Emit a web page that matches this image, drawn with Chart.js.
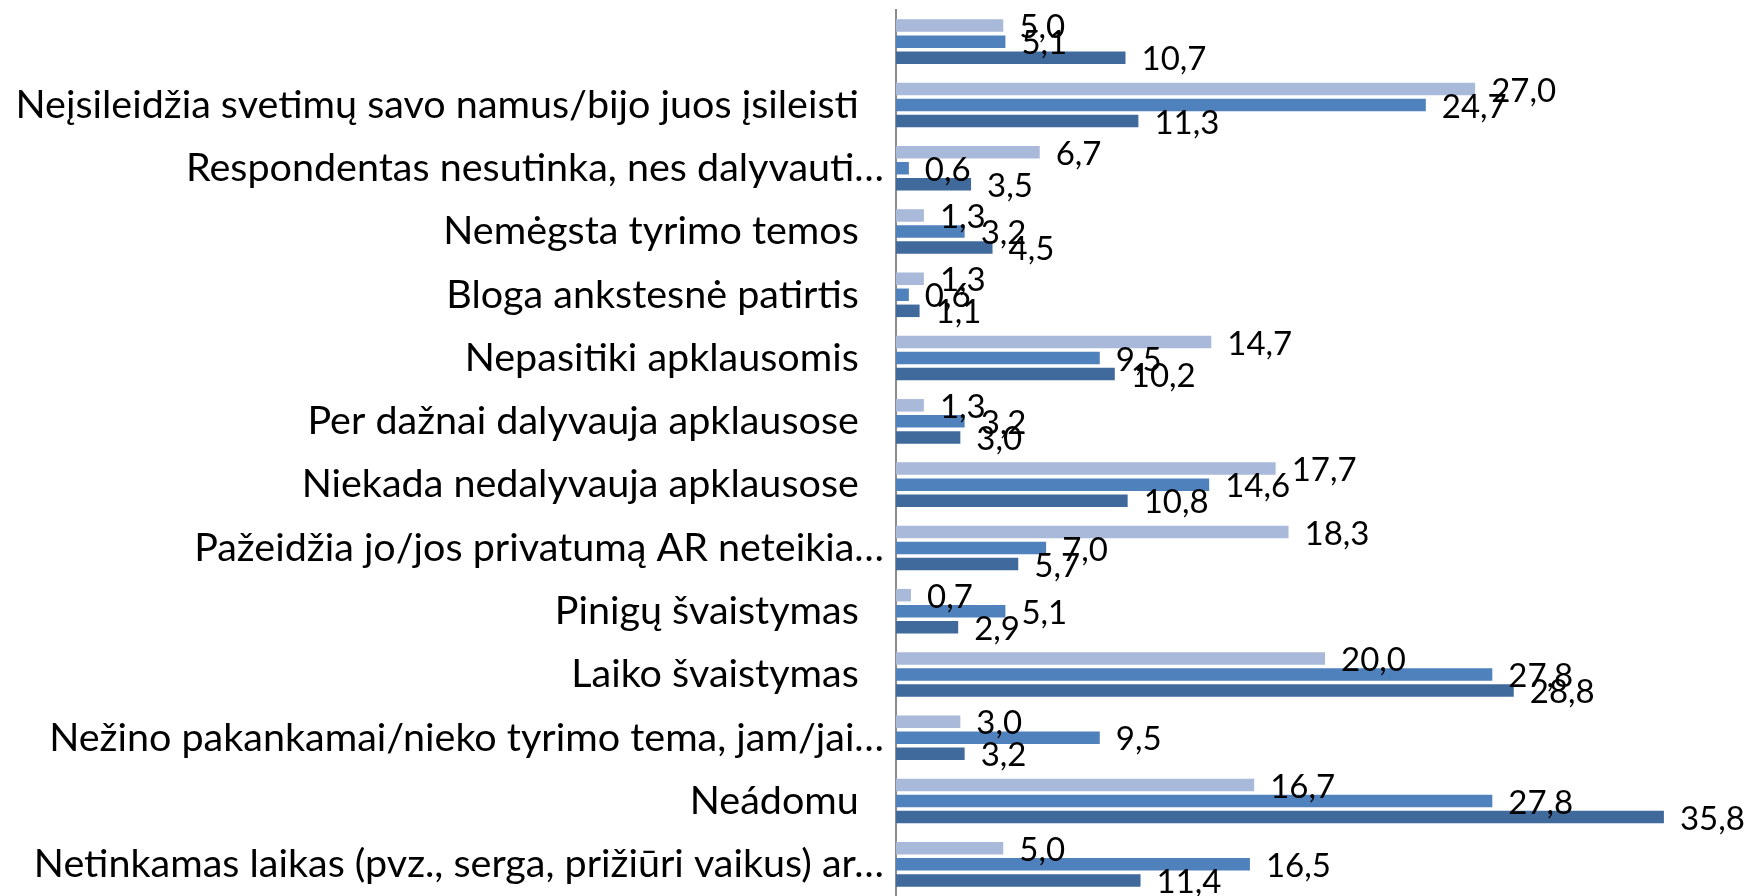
<!DOCTYPE html>
<html>
<head>
<meta charset="utf-8">
<script src="https://cdn.jsdelivr.net/npm/chart.js@4"></script>
<style>
  html, body { margin: 0; padding: 0; background: #fff; overflow: hidden; }
  #wrap { position: relative; width: 1754px; height: 896px; }
</style>
</head>
<body>
<div id="wrap"><canvas id="chart"></canvas></div>
<script>
const categories = [
    '',
    'Neįsileidžia svetimų savo namus/bijo juos įsileisti',
    'Respondentas nesutinka, nes dalyvauti…',
    'Nemėgsta tyrimo temos',
    'Bloga ankstesnė patirtis',
    'Nepasitiki apklausomis',
    'Per dažnai dalyvauja apklausose',
    'Niekada nedalyvauja apklausose',
    'Pažeidžia jo/jos privatumą AR neteikia…',
    'Pinigų švaistymas',
    'Laiko švaistymas',
    'Nežino pakankamai/nieko tyrimo tema, jam/jai…',
    'Neádomu',
    'Netinkamas laikas (pvz., serga, prižiūri vaikus) ar…'
];
const seriesA = [5.0, 27.0, 6.7, 1.3, 1.3, 14.7, 1.3, 17.7, 18.3, 0.7, 20.0, 3.0, 16.7, 5.0];
const seriesB = [5.1, 24.7, 0.6, 3.2, 0.6, 9.5, 3.2, 14.6, 7.0, 5.1, 27.8, 9.5, 27.8, 16.5];
const seriesC = [10.7, 11.3, 3.5, 4.5, 1.1, 10.2, 3.0, 10.8, 5.7, 2.9, 28.8, 3.2, 35.8, 11.4];
const colors = ['#a9b9d9', '#4f81bd', '#3f6a9b'];

const FONT = 'Lato, "Open Sans", sans-serif';

// value labels just past the end of each bar, comma decimals
const valueLabels = {
    id: 'valueLabels',
    afterDatasetsDraw(chart) {
        const ctx = chart.ctx;
        ctx.save();
        ctx.font = '33px ' + FONT;
        ctx.fillStyle = '#000';
        ctx.textAlign = 'left';
        ctx.textBaseline = 'middle';
        chart.data.datasets.forEach((ds, i) => {
            chart.getDatasetMeta(i).data.forEach((bar, j) => {
                const txt = ds.data[j].toFixed(1).replace('.', ',');
                ctx.fillText(txt, bar.x + 16, bar.y + 2);
            });
        });
        ctx.restore();
    }
};

new Chart(document.getElementById('chart'), {
    type: 'bar',
    data: {
        labels: categories,
        datasets: [
            { data: seriesA, backgroundColor: colors[0] },
            { data: seriesB, backgroundColor: colors[1] },
            { data: seriesC, backgroundColor: colors[2] }
        ]
    },
    options: {
        indexAxis: 'y',
        responsive: true,
        maintainAspectRatio: false,
        animation: false,
        layout: { padding: { top: 10, bottom: 0, left: 0, right: 0 } },
        categoryPercentage: 0.76,
        barPercentage: 0.78,
        plugins: { legend: { display: false }, tooltip: { enabled: false } },
        scales: {
            x: { display: false, min: 0, max: 40 },
            y: {
                grid: { display: false, drawTicks: false },
                border: { display: true, color: '#8c8c8c', width: 2 },
                ticks: {
                    color: '#000',
                    padding: 12,
                    autoSkip: false,
                    font: { family: FONT, size: 39.5 },
                    callback: (v) => {
                        const s = categories[v];
                        return s.endsWith('…') || s === '' ? s : s + '  \u2009';
                    }
                },
                afterFit: (scale) => {
                    scale.width = 896;
                    scale.paddingTop = 0;
                    scale.paddingBottom = 0;
                }
            }
        }
    },
    plugins: [valueLabels]
});
</script>
</body>
</html>
